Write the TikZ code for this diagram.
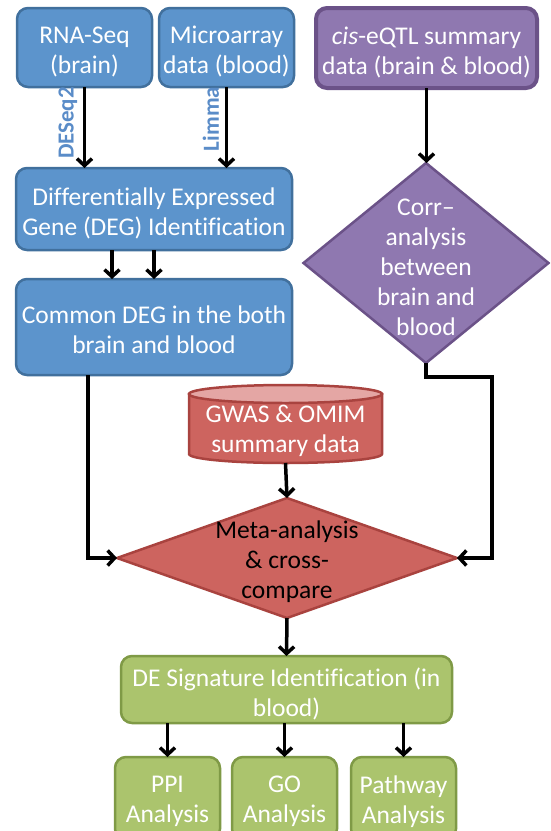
\documentclass[tikz,border=0pt]{standalone}
\usepackage{fontspec}
\setmainfont{Carlito}[Ligatures=NoCommon]
\usetikzlibrary{shapes.geometric,arrows.meta,calc}
\definecolor{bfill}{HTML}{5C94CC}
\definecolor{bline}{HTML}{41709D}
\definecolor{pfill}{HTML}{8F78B0}
\definecolor{pline}{HTML}{6B5288}
\definecolor{rfill}{HTML}{CD645F}
\definecolor{rline}{HTML}{A9433F}
\definecolor{rtop}{HTML}{E4A6A4}
\definecolor{gfill}{HTML}{ABC46D}
\definecolor{gline}{HTML}{7F9A46}
\definecolor{labblue}{HTML}{5A8CC8}
\begin{document}
\begin{tikzpicture}[x=1pt,y=-1pt,
  txt/.style={font=\fontsize{25.5}{30}\selectfont, align=center, inner sep=0pt},
  wtxt/.style={txt, text=white},
  box/.style={rectangle, rounded corners=11pt, draw, line width=2.5pt, inner sep=0pt, outer sep=0pt},
  bluebox/.style={box, fill=bfill, draw=bline},
  greenbox/.style={box, fill=gfill, draw=gline},
  purplebox/.style={box, fill=pfill, draw=pline, line width=4pt},
  diam/.style={diamond, draw, line width=2.5pt, inner sep=0pt, outer sep=0pt},
  arr/.style={line width=3.5pt, -{Straight Barb[length=7pt,width=15pt]}},
  lab/.style={font=\bfseries\fontsize{23}{25}\selectfont, text=labblue, rotate=90, inner sep=0pt}
]
\clip (0,0) rectangle (550,831);
\fill[white] (0,0) rectangle (550,831);

% top row
\node[bluebox, minimum width=135pt, minimum height=79pt] (rna) at (84.5,47.5) {};
\node[wtxt] (rnat) at ($(rna)+(0,4)$) {RNA-Seq\\(brain)};
\node[bluebox, minimum width=135pt, minimum height=79pt] (micro) at (226.5,47.5) {};
\node[wtxt] (microt) at ($(micro)+(0,4)$) {Microarray\\data (blood)};
\node[purplebox, minimum width=221pt, minimum height=80pt] (cis) at (426.5,48) {};
\node[wtxt] (cist) at ($(cis)+(0,4)$) {\textit{cis}-eQTL summary\\data (brain \& blood)};

% DEG
\node[bluebox, minimum width=276pt, minimum height=82pt] (deg) at (154,209) {};
\node[wtxt] (degt) at ($(deg)+(0,4)$) {Differentially Expressed\\Gene (DEG) Identification};
\node[bluebox, minimum width=276pt, minimum height=96pt] (common) at (154,327) {};
\node[wtxt] (commont) at ($(common)+(0,3)$) {Common DEG in the both\\brain and blood};

% labels
\node[lab] (deseq) at (68,123) {DESeq2};
\node[lab] (limma) at (211,119) {Limma};

% corr diamond
\node[diam, fill=pfill, draw=pline, minimum width=245pt, minimum height=200pt] (corr) at (426,263) {};
\node[wtxt] (corrtxt) at ($(corr)+(0,4)$) {Corr–\\analysis\\between\\brain and\\blood};

% cylinder
\node[minimum width=193pt, minimum height=78pt, inner sep=0pt, outer sep=0pt] (gwas) at (285.5,424) {};
\draw[line width=2.5pt, draw=rline, fill=rfill] (189,394) -- (189,454)
   arc[start angle=180, end angle=0, x radius=96.5, y radius=9] -- (382,394) -- cycle;
\draw[line width=2.5pt, draw=rline, fill=rtop] (285.5,394) ellipse[x radius=96.5, y radius=9];
\node[wtxt] (gwastxt) at (285.5,431) {GWAS \& OMIM\\summary data};

% meta diamond
\node[diam, fill=rfill, draw=rline, minimum width=340pt, minimum height=120pt] (meta) at (287,558) {};
\node[txt, text=black] (metatxt) at (287,562) {Meta-analysis\\\& cross-\\compare};

% green
\node[greenbox, minimum width=331pt, minimum height=67pt] (de) at (286.5,689.5) {};
\node[wtxt] (det) at ($(de)+(0,4)$) {DE Signature Identification (in\\blood)};
\node[greenbox, minimum width=105pt, minimum height=83pt] (ppi) at (167.5,798.5) {};
\node[wtxt] (ppit) at ($(ppi)+(0,3)$) {PPI\\Analysis};
\node[greenbox, minimum width=105pt, minimum height=83pt] (go) at (284.5,798.5) {};
\node[wtxt] (got) at ($(go)+(0,3)$) {GO\\Analysis};
\node[greenbox, minimum width=105pt, minimum height=83pt] (pw) at (403.5,798.5) {};
\node[wtxt] (pwt) at ($(pw)+(0,3)$) {Pathway\\Analysis};

% connectors
\draw[arr] (rna.south) -- (rna.south |- deg.north);
\draw[arr] (micro.south) -- (micro.south |- deg.north);
\draw[arr] ($(deg.south)+(-42,0)$) -- ($(common.north)+(-42,0)$);
\draw[arr] (deg.south) -- (common.north);
\draw[arr] (cis.south) -- (cis.south |- corr.north);
\draw[arr] ($(common.south west)+(72,0)$) |- (meta.west);
\draw[arr] (corr.south) -- ++(0,14) -| ($(meta.east)+(35,0)$) -- (meta.east);
\draw[arr] (gwas.south) -- (meta.north);
\draw[arr] (meta.south) -- (de.north);
\draw[arr] (ppi.north |- de.south) -- (ppi.north);
\draw[arr] (go.north |- de.south) -- (go.north);
\draw[arr] (pw.north |- de.south) -- (pw.north);
\end{tikzpicture}
\end{document}
